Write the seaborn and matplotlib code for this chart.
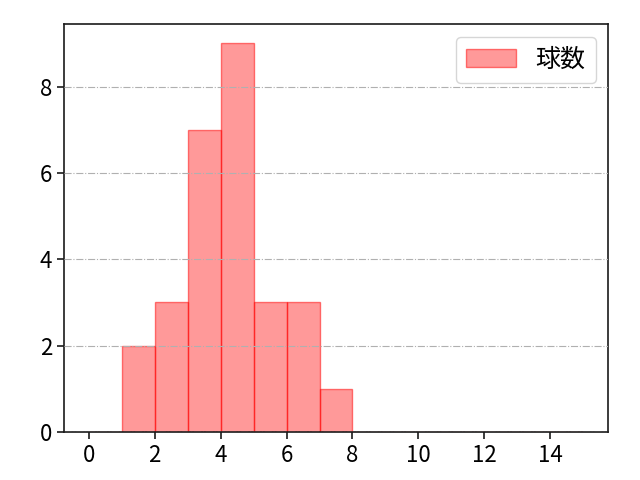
import numpy as np
import pandas as pd
import seaborn as sns
import matplotlib.pyplot as plt

# pitch counts per bin (bin start value -> number of occurrences)
bin_starts = [1, 2, 3, 4, 5, 6, 7]
counts = [2, 3, 7, 9, 3, 3, 1]
bin_edges = list(range(0, 16))
label = '球数'

sns.set_style('ticks')
plt.rcParams['font.family'] = ['Noto Sans CJK JP', 'DejaVu Sans']
plt.rcParams['font.size'] = 16

values = np.repeat(np.array(bin_starts) + 0.5, counts)
df = pd.DataFrame({label: values})

fig, ax = plt.subplots(figsize=(6.4, 4.8), dpi=100)
fig.subplots_adjust(left=0.1, right=0.95, bottom=0.1, top=0.95)
sns.histplot(data=df, x=label, bins=bin_edges, color='red', alpha=0.4,
             edgecolor=(1, 0, 0, 0.5), linewidth=1, label=label, ax=ax)
ax.set_xlabel('')
ax.set_ylabel('')
ax.set_xticks(range(0, 16, 2))
ax.set_yticks([0, 2, 4, 6, 8])
ax.grid(axis='y', linestyle='-.', color='#b0b0b0', linewidth=0.8)
ax.set_axisbelow(False)
for side in ax.spines.values():
    side.set_linewidth(1.2)
    side.set_color('#1a1a1a')
ax.tick_params(labelsize=16, width=1.2, length=5, colors='#1a1a1a',
               labelcolor='black')
leg = ax.legend(loc='upper right', fontsize=18)
for txt in leg.get_texts():
    txt.set_color('black')

plt.savefig('out.png')
plt.close()
